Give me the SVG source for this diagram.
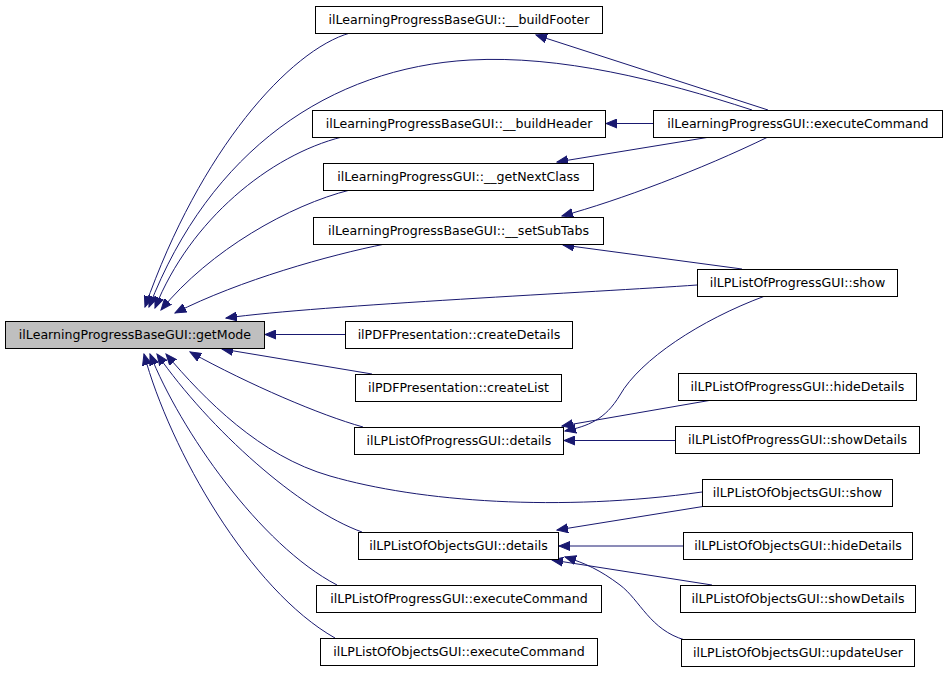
<svg xmlns="http://www.w3.org/2000/svg" width="947" height="673" viewBox="0 0 947 673">
<defs>
<marker id="ah" markerWidth="12" markerHeight="10" refX="11" refY="5" orient="auto" markerUnits="userSpaceOnUse">
<path d="M0,0.5 L11,5 L0,9.5 Z" fill="#191970" stroke="#191970" stroke-width="1"/>
</marker>
<style>
.n rect{fill:#ffffff;stroke:#000000;stroke-width:1}
.n.root rect{fill:#bfbfbf}
.n text{font-family:"DejaVu Sans",sans-serif;font-size:12.6px;text-anchor:middle;fill:#000000}
.e path{fill:none;stroke:#191970;stroke-width:1;marker-end:url(#ah)}
</style>
</defs>
<rect width="947" height="673" fill="#ffffff"/>
<g id="connectors" class="e">
<path d="M350,33 C290,50 200,150 145,307"/>
<path d="M752,110 C660,80 560,55 470,60 C330,68 210,150 149,307"/>
<path d="M342,137 C270,155 190,220 155,308"/>
<path d="M350,190 C290,205 210,250 161,310"/>
<path d="M385,244 C330,255 240,280 175,313"/>
<path d="M697,285 C600,292 320,305 226,318"/>
<path d="M345,334.5 L265,334.5"/>
<path d="M372,374 L222,349"/>
<path d="M363,427 C320,415 250,385 190,352"/>
<path d="M702,492 C560,512 420,502 330,476 C260,456 205,400 166,354"/>
<path d="M362,532 C300,510 210,430 157,354"/>
<path d="M337,585 C260,545 180,430 150,354"/>
<path d="M335,638 C250,590 170,450 144,354"/>
<path d="M768,110 L536,35"/>
<path d="M653,123.5 L606,123.5"/>
<path d="M710,137 L557,162"/>
<path d="M768,137 C700,170 620,200 562,216"/>
<path d="M742,269 L563,245"/>
<path d="M765,296 C700,320 640,360 620,395 C605,420 588,426 565,431"/>
<path d="M712,400 L562,426"/>
<path d="M675,440.5 L564,440.5"/>
<path d="M706,506 L557,530"/>
<path d="M683,546 L559,546"/>
<path d="M712,585 L552,560"/>
<path d="M685,640 C650,630 640,600 620,585 C600,570 585,563 565,557"/>
</g>
<g id="getMode" class="n root"><rect x="5.5" y="321.5" width="259" height="27"/><text x="135" y="339">ilLearningProgressBaseGUI::getMode</text></g>
<g id="buildFooter" class="n"><rect x="315.5" y="6.5" width="287" height="27"/><text x="459" y="24">ilLearningProgressBaseGUI::__buildFooter</text></g>
<g id="buildHeader" class="n"><rect x="312.5" y="110.5" width="293" height="27"/><text x="459" y="128">ilLearningProgressBaseGUI::__buildHeader</text></g>
<g id="getNextClass" class="n"><rect x="323.5" y="163.5" width="270" height="27"/><text x="458.5" y="181">ilLearningProgressGUI::__getNextClass</text></g>
<g id="setSubTabs" class="n"><rect x="313.5" y="217.5" width="290" height="27"/><text x="458.5" y="235">ilLearningProgressBaseGUI::__setSubTabs</text></g>
<g id="createDetails" class="n"><rect x="345.5" y="321.5" width="227" height="27"/><text x="459" y="339">ilPDFPresentation::createDetails</text></g>
<g id="createList" class="n"><rect x="355.5" y="374.5" width="206" height="27"/><text x="458.5" y="392">ilPDFPresentation::createList</text></g>
<g id="progDetails" class="n"><rect x="354.5" y="427.5" width="209" height="27"/><text x="459" y="445">ilLPListOfProgressGUI::details</text></g>
<g id="objDetails" class="n"><rect x="358.5" y="532.5" width="200" height="27"/><text x="458.5" y="550">ilLPListOfObjectsGUI::details</text></g>
<g id="progExec" class="n"><rect x="316.5" y="585.5" width="285" height="27"/><text x="459" y="603">ilLPListOfProgressGUI::executeCommand</text></g>
<g id="objExec" class="n"><rect x="320.5" y="638.5" width="277" height="27"/><text x="459" y="656">ilLPListOfObjectsGUI::executeCommand</text></g>
<g id="lpExec" class="n"><rect x="653.5" y="110.5" width="289" height="27"/><text x="798" y="128">ilLearningProgressGUI::executeCommand</text></g>
<g id="progShow" class="n"><rect x="697.5" y="269.5" width="200" height="27"/><text x="797.5" y="287">ilLPListOfProgressGUI::show</text></g>
<g id="progHide" class="n"><rect x="678.5" y="373.5" width="238" height="27"/><text x="797.5" y="391">ilLPListOfProgressGUI::hideDetails</text></g>
<g id="progShowDetails" class="n"><rect x="675.5" y="426.5" width="244" height="27"/><text x="797.5" y="444">ilLPListOfProgressGUI::showDetails</text></g>
<g id="objShow" class="n"><rect x="702.5" y="479.5" width="190" height="27"/><text x="797.5" y="497">ilLPListOfObjectsGUI::show</text></g>
<g id="objHide" class="n"><rect x="683.5" y="532.5" width="229" height="27"/><text x="798" y="550">ilLPListOfObjectsGUI::hideDetails</text></g>
<g id="objShowDetails" class="n"><rect x="680.5" y="585.5" width="235" height="27"/><text x="798" y="603">ilLPListOfObjectsGUI::showDetails</text></g>
<g id="objUpdateUser" class="n"><rect x="681.5" y="639.5" width="233" height="27"/><text x="798" y="657">ilLPListOfObjectsGUI::updateUser</text></g>
</svg>
